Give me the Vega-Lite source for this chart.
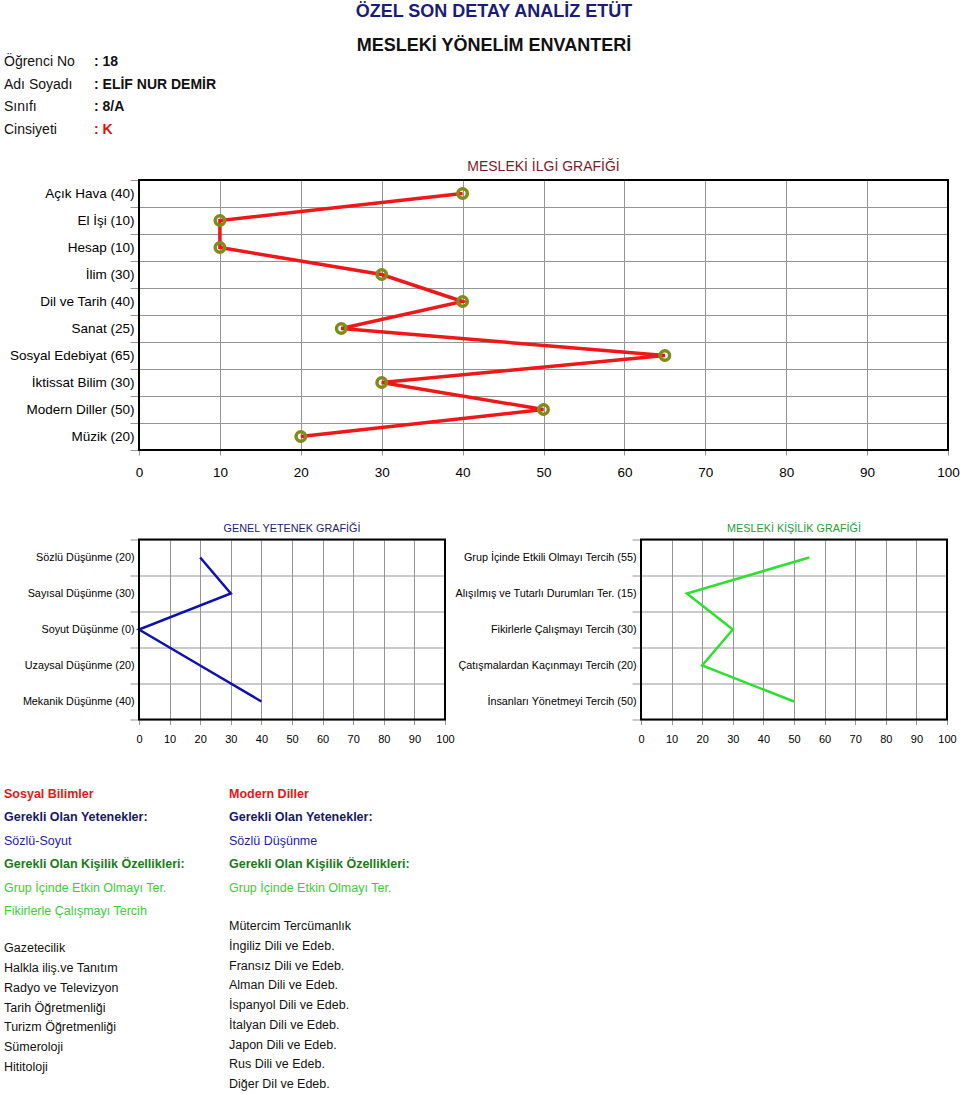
{
  "$schema": "https://vega.github.io/schema/vega-lite/v6.json",
  "background": "white",
  "padding": {"left": 4, "top": 0, "right": 0, "bottom": 0},
  "config": {
    "font": "Liberation Sans",
    "view": {"stroke": null},
    "axis": {"labelFont": "Liberation Sans", "labelColor": "#000", "gridColor": "#959595", "tickColor": "#959595", "domain": false, "labelOverlap": false},
    "title": {"font": "Liberation Sans", "fontWeight": "normal", "anchor": "middle", "baseline": "bottom"},
    "text": {"font": "Liberation Sans"}
  },
  "concat": [
    {
      "width": 710,
      "height": 159,
      "layer": [
        {
          "data": {"values": [
            {"k": "t1", "t": "ÖZEL SON DETAY ANALİZ ETÜT"},
            {"k": "t2", "t": "MESLEKİ YÖNELİM ENVANTERİ"}
          ]},
          "mark": {"type": "text", "fontSize": 18, "fontWeight": "bold", "align": "center", "baseline": "middle"},
          "encoding": {
            "y": {"field": "k", "type": "nominal", "scale": {"type": "point", "domain": ["t1", "t2"], "range": [12, 46], "padding": 0}, "axis": null},
            "text": {"field": "t"},
            "color": {"condition": {"test": "datum.k === 't1'", "value": "#1b1b78"}, "value": "#111111"}
          }
        },
        {
          "data": {"values": [
            {"r": 1, "lab": "Öğrenci No", "val": ": 18"},
            {"r": 2, "lab": "Adı Soyadı", "val": ": ELİF NUR DEMİR"},
            {"r": 3, "lab": "Sınıfı", "val": ": 8/A"},
            {"r": 4, "lab": "Cinsiyeti", "val": ": K"}
          ]},
          "transform": [{"fold": ["lab", "val"], "as": ["col", "t"]}],
          "encoding": {
            "x": {"field": "col", "type": "nominal", "scale": {"type": "point", "domain": ["lab", "val"], "range": [-135, -45], "padding": 0}, "axis": null},
            "y": {"field": "r", "type": "ordinal", "scale": {"type": "point", "domain": [1, 2, 3, 4], "range": [62, 130], "padding": 0}, "axis": null},
            "text": {"field": "t"}
          },
          "layer": [
            {
              "transform": [{"filter": "datum.col === 'lab'"}],
              "mark": {"type": "text", "align": "left", "baseline": "middle", "fontSize": 14, "color": "#111111"}
            },
            {
              "transform": [{"filter": "datum.col === 'val'"}],
              "mark": {"type": "text", "align": "left", "baseline": "middle", "fontSize": 14, "fontWeight": "bold"},
              "encoding": {"color": {"condition": {"test": "datum.r === 4", "value": "#e01010"}, "value": "#111111"}}
            }
          ]
        }
      ],
      "resolve": {"scale": {"y": "independent"}}
    },
    {
      "concat": [
        {
          "width": 809,
          "height": 270,
          "title": {"text": "MESLEKİ İLGİ GRAFİĞİ", "color": "#7a1c2a", "fontSize": 14, "offset": -0.5},
          "data": {"values": [
            {"i": 1, "label": "Açık Hava (40)", "v": 40},
            {"i": 2, "label": "El İşi (10)", "v": 10},
            {"i": 3, "label": "Hesap (10)", "v": 10},
            {"i": 4, "label": "İlim (30)", "v": 30},
            {"i": 5, "label": "Dil ve Tarih (40)", "v": 40},
            {"i": 6, "label": "Sanat (25)", "v": 25},
            {"i": 7, "label": "Sosyal Edebiyat (65)", "v": 65},
            {"i": 8, "label": "İktissat Bilim (30)", "v": 30},
            {"i": 9, "label": "Modern Diller (50)", "v": 50},
            {"i": 10, "label": "Müzik (20)", "v": 20}
          ]},
          "layer": [
            {
              "mark": {"type": "line", "color": "#ee1818", "strokeWidth": 3.5},
              "encoding": {
                "y": {"field": "label", "type": "nominal", "sort": null, "bandPosition": 0.5,
                      "scale": {"type": "band", "paddingInner": 0, "paddingOuter": 0},
                      "axis": {"title": null, "tickBand": "extent", "grid": true, "tickSize": 9, "labelPadding": -4, "labelFontSize": 13.5, "labelLimit": 300}},
                "x": {"field": "v", "type": "quantitative", "scale": {"domain": [0, 100], "nice": false},
                      "axis": {"title": null, "values": [0, 10, 20, 30, 40, 50, 60, 70, 80, 90, 100], "grid": true, "tickSize": 5, "labelFontSize": 13.5, "labelFlush": false, "labelPadding": 10}},
                "order": {"field": "i", "type": "quantitative"}
              }
            },
            {
              "mark": {"type": "point", "filled": false, "stroke": "#838a1c", "strokeWidth": 3.5, "size": 90, "opacity": 1},
              "encoding": {
                "y": {"field": "label", "type": "nominal", "sort": null, "bandPosition": 0.5},
                "x": {"field": "v", "type": "quantitative"}
              }
            },
            {
              "data": {"values": [{"box": 1}]},
              "mark": {"type": "rect", "fill": "transparent", "stroke": "#000", "strokeWidth": 2}
            }
          ]
        },
        {
          "hconcat": [
            {
              "width": 306,
              "height": 180,
              "title": {"text": "GENEL YETENEK GRAFİĞİ", "color": "#22226e", "fontSize": 10.8, "offset": -0.5},
              "data": {"values": [
                {"i": 1, "label": "Sözlü Düşünme (20)", "v": 20},
                {"i": 2, "label": "Sayısal Düşünme (30)", "v": 30},
                {"i": 3, "label": "Soyut Düşünme (0)", "v": 0},
                {"i": 4, "label": "Uzaysal Düşünme (20)", "v": 20},
                {"i": 5, "label": "Mekanik Düşünme (40)", "v": 40}
              ]},
              "layer": [
                {
                  "mark": {"type": "line", "color": "#1010b0", "strokeWidth": 2.5},
                  "encoding": {
                    "y": {"field": "label", "type": "nominal", "sort": null, "bandPosition": 0.5,
                          "scale": {"type": "band", "paddingInner": 0, "paddingOuter": 0},
                          "axis": {"title": null, "tickBand": "extent", "grid": true, "tickSize": 9, "labelPadding": -4, "labelFontSize": 10.8, "labelLimit": 300}},
                    "x": {"field": "v", "type": "quantitative", "scale": {"domain": [0, 100], "nice": false},
                          "axis": {"title": null, "values": [0, 10, 20, 30, 40, 50, 60, 70, 80, 90, 100], "grid": true, "tickSize": 5, "labelFontSize": 11, "labelFlush": false, "labelPadding": 9}},
                    "order": {"field": "i", "type": "quantitative"}
                  }
                },
                {
                  "data": {"values": [{"box": 1}]},
                  "mark": {"type": "rect", "fill": "transparent", "stroke": "#000", "strokeWidth": 2}
                }
              ]
            },
            {
              "width": 306,
              "height": 180,
              "title": {"text": "MESLEKİ KİŞİLİK GRAFİĞİ", "color": "#2a9a3a", "fontSize": 10.8, "offset": -0.5},
              "data": {"values": [
                {"i": 1, "label": "Grup İçinde Etkili Olmayı Tercih (55)", "v": 55},
                {"i": 2, "label": "Alışılmış ve Tutarlı Durumları Ter. (15)", "v": 15},
                {"i": 3, "label": "Fikirlerle Çalışmayı Tercih (30)", "v": 30},
                {"i": 4, "label": "Çatışmalardan Kaçınmayı Tercih (20)", "v": 20},
                {"i": 5, "label": "İnsanları Yönetmeyi Tercih (50)", "v": 50}
              ]},
              "layer": [
                {
                  "mark": {"type": "line", "color": "#2ee02e", "strokeWidth": 2.5},
                  "encoding": {
                    "y": {"field": "label", "type": "nominal", "sort": null, "bandPosition": 0.5,
                          "scale": {"type": "band", "paddingInner": 0, "paddingOuter": 0},
                          "axis": {"title": null, "tickBand": "extent", "grid": true, "tickSize": 9, "labelPadding": -4, "labelFontSize": 10.8, "labelLimit": 300}},
                    "x": {"field": "v", "type": "quantitative", "scale": {"domain": [0, 100], "nice": false},
                          "axis": {"title": null, "values": [0, 10, 20, 30, 40, 50, 60, 70, 80, 90, 100], "grid": true, "tickSize": 5, "labelFontSize": 11, "labelFlush": false, "labelPadding": 9}},
                    "order": {"field": "i", "type": "quantitative"}
                  }
                },
                {
                  "data": {"values": [{"box": 1}]},
                  "mark": {"type": "rect", "fill": "transparent", "stroke": "#000", "strokeWidth": 2}
                }
              ]
            }
          ],
          "spacing": -1
        }
      ],
      "columns": 1,
      "spacing": 43.5
    },
    {
      "width": 700,
      "height": 348,
      "layer": [
        {
          "data": {"values": [
            {"c": "L", "n": 0, "k": "title", "t": "Sosyal Bilimler"},
            {"c": "L", "n": 1, "k": "req", "t": "Gerekli Olan Yetenekler:"},
            {"c": "L", "n": 2, "k": "abil", "t": "Sözlü-Soyut"},
            {"c": "L", "n": 3, "k": "reqp", "t": "Gerekli Olan Kişilik Özellikleri:"},
            {"c": "L", "n": 4, "k": "pers", "t": "Grup İçinde Etkin Olmayı Ter."},
            {"c": "L", "n": 5, "k": "pers", "t": "Fikirlerle Çalışmayı Tercih"},
            {"c": "R", "n": 0, "k": "title", "t": "Modern Diller"},
            {"c": "R", "n": 1, "k": "req", "t": "Gerekli Olan Yetenekler:"},
            {"c": "R", "n": 2, "k": "abil", "t": "Sözlü Düşünme"},
            {"c": "R", "n": 3, "k": "reqp", "t": "Gerekli Olan Kişilik Özellikleri:"},
            {"c": "R", "n": 4, "k": "pers", "t": "Grup İçinde Etkin Olmayı Ter."}
          ]},
          "encoding": {
            "x": {"field": "c", "type": "nominal", "scale": {"type": "point", "domain": ["L", "R"], "range": [-135, 90], "padding": 0}, "axis": null},
            "y": {"field": "n", "type": "quantitative", "scale": {"domain": [0, 5], "range": [49, 166], "zero": false, "nice": false}, "axis": null},
            "text": {"field": "t"},
            "color": {"field": "k", "type": "nominal", "legend": null,
                      "scale": {"domain": ["title", "req", "abil", "reqp", "pers", "job"], "range": ["#e01818", "#16166e", "#1c1ca4", "#1a7a1a", "#3ccc3c", "#111111"]}}
          },
          "layer": [
            {
              "transform": [{"filter": "datum.k === 'title' || datum.k === 'req' || datum.k === 'reqp'"}],
              "mark": {"type": "text", "align": "left", "baseline": "middle", "fontSize": 12.5, "fontWeight": "bold"}
            },
            {
              "transform": [{"filter": "datum.k === 'abil' || datum.k === 'pers'"}],
              "mark": {"type": "text", "align": "left", "baseline": "middle", "fontSize": 12.5}
            }
          ]
        },
        {
          "data": {"values": [
            {"c": "L", "n": 0, "k": "job", "t": "Gazetecilik"},
            {"c": "L", "n": 1, "k": "job", "t": "Halkla iliş.ve Tanıtım"},
            {"c": "L", "n": 2, "k": "job", "t": "Radyo ve Televizyon"},
            {"c": "L", "n": 3, "k": "job", "t": "Tarih Öğretmenliği"},
            {"c": "L", "n": 4, "k": "job", "t": "Turizm Öğretmenliği"},
            {"c": "L", "n": 5, "k": "job", "t": "Sümeroloji"},
            {"c": "L", "n": 6, "k": "job", "t": "Hititoloji"}
          ]},
          "mark": {"type": "text", "align": "left", "baseline": "middle", "fontSize": 12.5},
          "encoding": {
            "x": {"field": "c", "type": "nominal", "scale": {"type": "point", "domain": ["L", "R"], "range": [-135, 90], "padding": 0}, "axis": null},
            "y": {"field": "n", "type": "quantitative", "scale": {"domain": [0, 6], "range": [203, 322], "zero": false, "nice": false}, "axis": null},
            "text": {"field": "t"},
            "color": {"field": "k", "type": "nominal", "legend": null}
          }
        },
        {
          "data": {"values": [
            {"c": "R", "n": 0, "k": "job", "t": "Mütercim Tercümanlık"},
            {"c": "R", "n": 1, "k": "job", "t": "İngiliz Dili ve Edeb."},
            {"c": "R", "n": 2, "k": "job", "t": "Fransız Dili ve Edeb."},
            {"c": "R", "n": 3, "k": "job", "t": "Alman Dili ve Edeb."},
            {"c": "R", "n": 4, "k": "job", "t": "İspanyol Dili ve Edeb."},
            {"c": "R", "n": 5, "k": "job", "t": "İtalyan Dili ve Edeb."},
            {"c": "R", "n": 6, "k": "job", "t": "Japon Dili ve Edeb."},
            {"c": "R", "n": 7, "k": "job", "t": "Rus Dili ve Edeb."},
            {"c": "R", "n": 8, "k": "job", "t": "Diğer Dil ve Edeb."}
          ]},
          "mark": {"type": "text", "align": "left", "baseline": "middle", "fontSize": 12.5},
          "encoding": {
            "x": {"field": "c", "type": "nominal", "scale": {"type": "point", "domain": ["L", "R"], "range": [-135, 90], "padding": 0}, "axis": null},
            "y": {"field": "n", "type": "quantitative", "scale": {"domain": [0, 8], "range": [181, 339], "zero": false, "nice": false}, "axis": null},
            "text": {"field": "t"},
            "color": {"field": "k", "type": "nominal", "legend": null}
          }
        }
      ],
      "resolve": {"scale": {"y": "independent"}}
    }
  ],
  "columns": 1,
  "spacing": 0
}
